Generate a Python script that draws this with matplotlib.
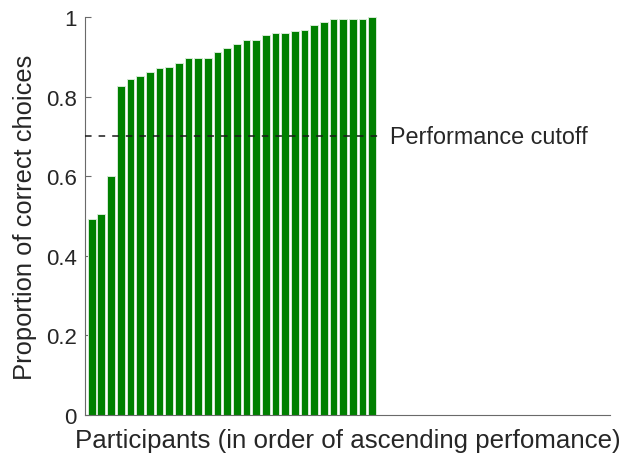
import matplotlib
matplotlib.use("Agg")
import matplotlib.pyplot as plt
import numpy as np

plt.rcParams['font.family'] = ['Liberation Sans', 'DejaVu Sans']

# Proportion of correct choices per participant, sorted ascending
scores = [0.492, 0.504, 0.600, 0.827, 0.844, 0.851, 0.862, 0.871, 0.875,
          0.885, 0.896, 0.898, 0.898, 0.912, 0.922, 0.932, 0.942, 0.942,
          0.954, 0.959, 0.960, 0.966, 0.967, 0.980, 0.987, 0.994, 0.994,
          0.994, 0.994, 1.000]
cutoff = 0.7
cutoff_label = "Performance cutoff"
yticks = [0, 0.2, 0.4, 0.6, 0.8, 1]
ytick_labels = ["0", "0.2", "0.4", "0.6", "0.8", "1"]
xlabel = "Participants (in order of ascending perfomance)"
ylabel = "Proportion of correct choices"

text_color = "#262626"
axis_color = "#6a6a6a"

fig = plt.figure(figsize=(6.22, 4.56), dpi=100)
ax = fig.add_axes([0.1367, 0.0877, 0.844, 0.8728])

x = np.arange(1, len(scores) + 1)
ax.bar(x, scores, width=0.82, color="#008000", edgecolor="#d6ead6",
       linewidth=0.7, zorder=2)

ax.set_xlim(0.3, 54.6)
ax.set_ylim(0, 1)

# Cutoff line with its label
ax.plot([0.3, 30.6], [cutoff, cutoff], color="#1a1a1a", lw=1.1,
        linestyle=(0, (4.3, 4.6)), zorder=3)
ax.text(31.85, cutoff, cutoff_label, fontsize=16.8, color=text_color,
        va="center", ha="left")

ax.set_yticks(yticks)
ax.set_yticklabels(ytick_labels)
ax.set_xticks([])
ax.tick_params(axis="y", direction="in", length=4, width=0.8,
               color=axis_color, labelsize=16, labelcolor=text_color, pad=6)

for side in ("top", "right"):
    ax.spines[side].set_visible(False)
for side in ("left", "bottom"):
    ax.spines[side].set_color(axis_color)
    ax.spines[side].set_linewidth(0.8)

ax.set_xlabel(xlabel, fontsize=18.6, color=text_color, labelpad=9)
ax.set_ylabel(ylabel, fontsize=18.4, color=text_color, labelpad=6)

fig.savefig("out.png", dpi=100)
